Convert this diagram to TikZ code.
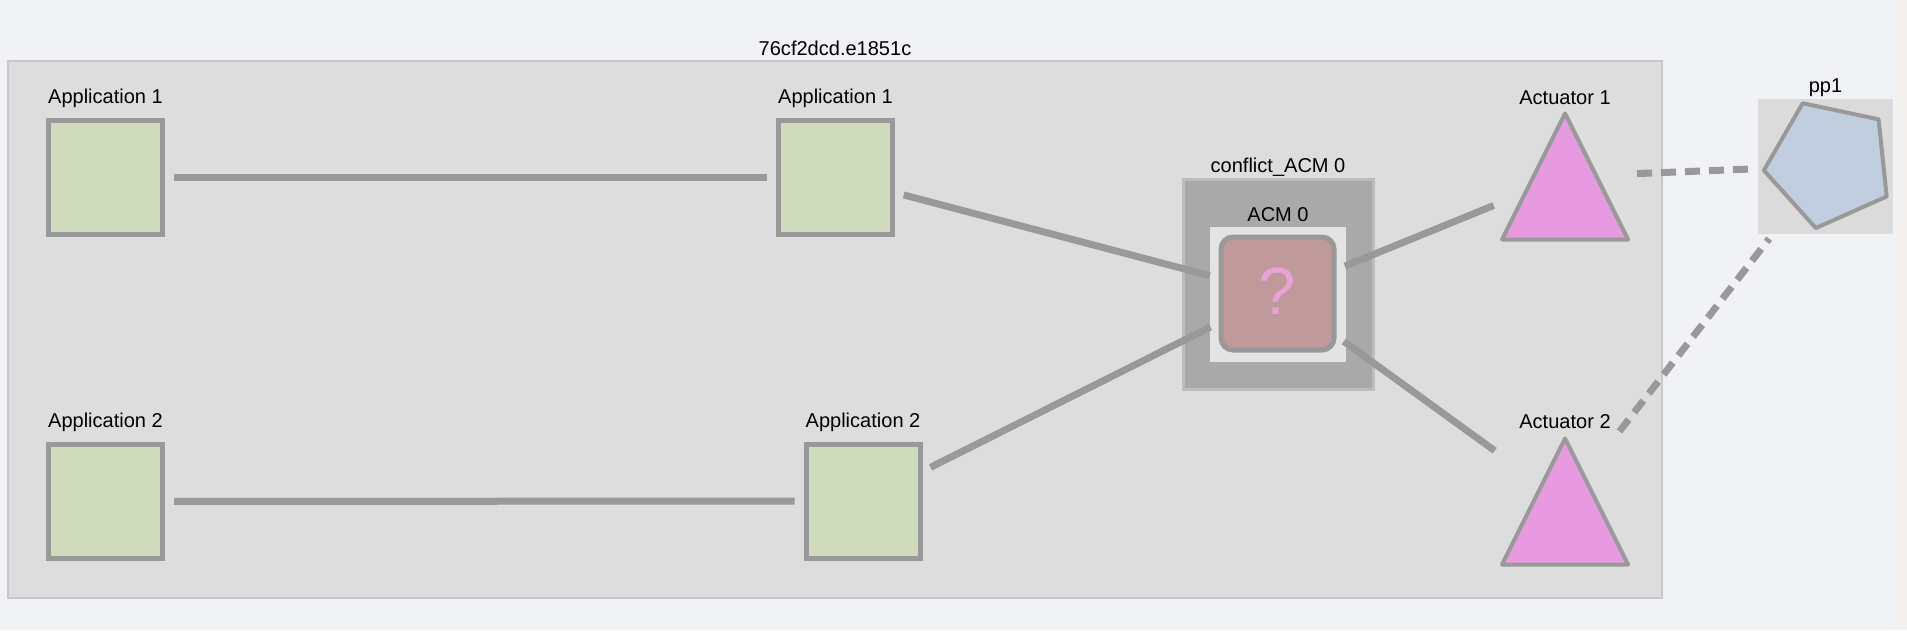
\documentclass[tikz,border=0pt]{standalone}
\usepackage{fontspec}
\setmainfont{Liberation Sans}
\usepackage{xcolor}
\usepackage{tikz}
\usetikzlibrary{shapes.geometric, positioning}

\definecolor{pagebg}{HTML}{F0F2F6}
\definecolor{stripbg}{HTML}{F3F0EE}
\definecolor{groupfill}{HTML}{DDDDDD}
\definecolor{groupline}{HTML}{C8C8C8}
\definecolor{appfill}{HTML}{D0DBBD}
\definecolor{shapeline}{HTML}{999999}
\definecolor{conflictfill}{HTML}{A9A9A9}
\definecolor{conflictline}{HTML}{BDBDBD}
\definecolor{acmport}{HTML}{E3E3E3}
\definecolor{acmfill}{HTML}{C09A9A}
\definecolor{qmark}{HTML}{E9A2D6}
\definecolor{actfill}{HTML}{E89AE0}
\definecolor{ppfill}{HTML}{C0CEE0}
\definecolor{ppbox}{HTML}{DBDBDB}

\begin{document}
\begin{tikzpicture}[
        caption/.style={font=\fontsize{11.4pt}{13pt}\selectfont, inner sep=0pt},
        group/.style={rectangle, draw=groupline, line width=0.04cm, fill=groupfill, minimum width=33.08cm, minimum height=10.74cm},
        app/.style={rectangle, draw=shapeline, line width=0.1cm, fill=appfill, minimum size=2.28cm, inner sep=0pt},
        actport/.style={rectangle, minimum size=2.44cm, inner sep=0pt, outer sep=0.04cm},
        tri/.style={draw=shapeline, line width=0.08cm, fill=actfill, line join=round},
        link/.style={draw=shapeline, line width=0.14cm, shorten <=0.18cm, shorten >=0.18cm},
        dlink/.style={link, dash pattern=on 0.3cm off 0.18cm, shorten >=0.12cm}
    ]
        % Page
        \fill[pagebg] (0, 0) rectangle (38.14, 12.6);
        \fill[stripbg] (37.9, 0) rectangle (38.14, 12.6);
        \useasboundingbox (0, 0) rectangle (38.14, 12.6);

        % Flow group
        \node[group] (flow) at (16.7, 6.01) {};
        \node[caption] (flowlabel) at (16.7, 11.63) {76cf2dcd.e1851c};

        % Applications
        \node[app] (app1a) at (2.11, 9.06) {};
        \node[caption] (app1alabel) at (2.11, 10.64) {Application 1};
        \node[app] (app1b) at (16.71, 9.06) {};
        \node[caption] (app1blabel) at (16.71, 10.64) {Application 1};
        \node[app] (app2a) at (2.11, 2.57) {};
        \node[caption] (app2alabel) at (2.11, 4.16) {Application 2};
        \node[app] (app2b) at (17.26, 2.58) {};
        \node[caption] (app2blabel) at (17.26, 4.16) {Application 2};

        % Conflict group
        \node[rectangle, draw=conflictline, line width=0.06cm, fill=conflictfill, minimum width=3.8cm, minimum height=4.2cm] (conflict) at (25.57, 6.91) {};
        \node[caption] (conflictlabel) at (25.56, 9.26) {conflict\_ACM 0};
        \node[rectangle, fill=acmport, minimum width=2.72cm, minimum height=2.7cm] (acmport) at (25.56, 6.71) {};
        \node[caption] (acmlabel) at (25.56, 8.31) {ACM 0};
        \node[rectangle, rounded corners=0.24cm, draw=shapeline, line width=0.1cm, fill=acmfill, minimum size=2.26cm, inner sep=0pt, text=qmark, font=\fontsize{38pt}{40pt}\selectfont] (acm) at (25.55, 6.73) {\raisebox{0.1cm}{?}};

        % Actuators
        \node[actport] (act1) at (31.3, 9.07) {};
        \node[caption] (act1label) at (31.3, 10.65) {Actuator 1};
        \node[actport] (act2) at (31.3, 2.57) {};
        \node[caption] (act2label) at (31.3, 4.16) {Actuator 2};
        \draw[tri] (act1.north) -- (act1.south east) -- (act1.south west) -- cycle;
        \draw[tri] (act2.north) -- (act2.south east) -- (act2.south west) -- cycle;

        % Port pp1
        \node[rectangle, fill=ppbox, minimum size=2.7cm] (pp1) at (36.51, 9.28) {};
        \coordinate (ppc) at (36.59, 9.33);
        \draw[draw=shapeline, line width=0.08cm, line join=round, fill=ppfill]
            ([shift={(114:1.32)}]ppc) \foreach \a in {186,258,330,42} { -- ([shift={(\a:1.32)}]ppc) } -- cycle;
        \node[caption] (pp1label) at (36.51, 10.85) {pp1};

        % Links
        \draw[link] (app1a) -- (app1b);
        \draw[link] (app2a) -- (app2b);
        \draw[link] (app1b) -- (acm);
        \draw[link] (app2b) -- (acm);
        \draw[link] (acm) -- (act1);
        \draw[link] (acm) -- (act2);
        \draw[dlink] (act1) -- (pp1);
        \draw[dlink] (act2) -- (pp1);
    \end{tikzpicture}
\end{document}
